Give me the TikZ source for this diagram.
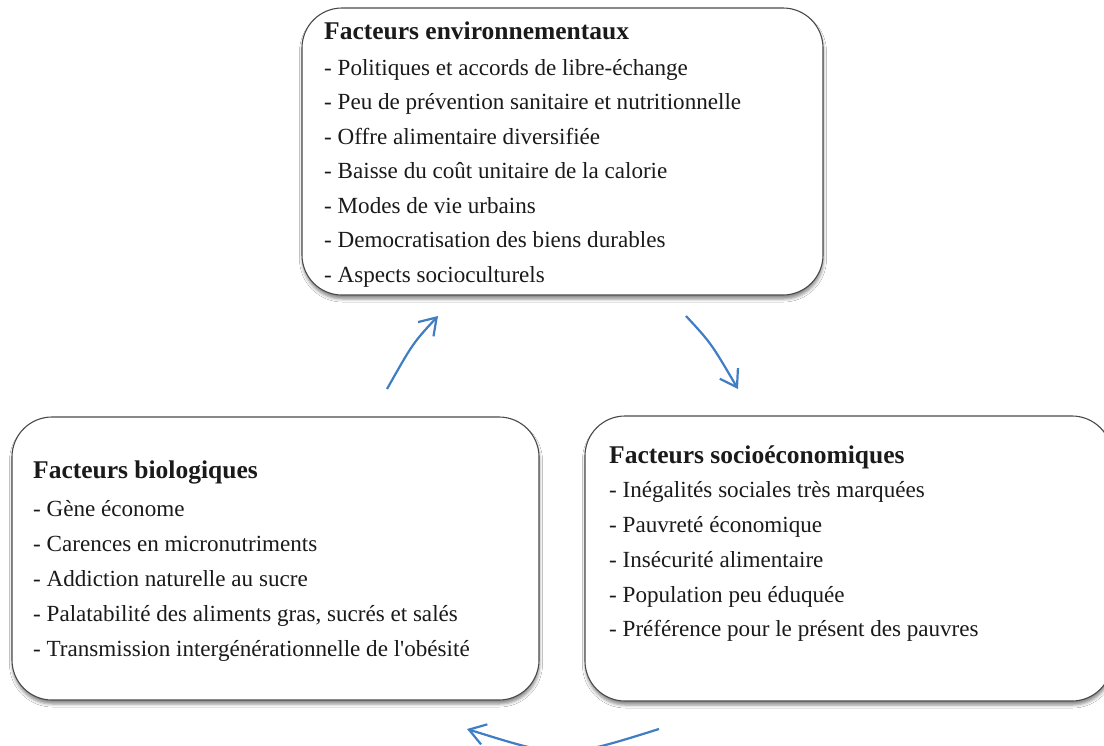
\documentclass[tikz,border=0pt]{standalone}
\usepackage{fontspec}
\setmainfont{Liberation Serif}[Ligatures=TeXOff]
\usetikzlibrary{arrows.meta,shadows.blur}
\definecolor{boxline}{HTML}{4A4A4A}
\definecolor{arrowblue}{HTML}{3F7DC4}
\definecolor{txt}{HTML}{1A1A1A}
\begin{document}
\begin{tikzpicture}[x=1pt,y=-1pt,
  box/.style={draw=boxline, line width=1.1pt, rounded corners=40pt, fill=white,
    blur shadow={shadow xshift=0.5pt, shadow yshift=-4pt, shadow blur radius=3pt, shadow opacity=45},
    inner sep=0pt},
  ttl/.style={anchor=base west, font=\fontsize{25.5}{30}\selectfont\bfseries, text=txt, inner sep=0pt},
  itm/.style={anchor=base west, font=\fontsize{23.1}{28}\selectfont, text=txt, inner sep=0pt},
  cyc/.style={draw=arrowblue, line width=2.2pt, -{Straight Barb[length=16pt,width=21pt]}}]
\clip (0,0) rectangle (1104,745);
\fill[white] (0,0) rectangle (1104,745);
% boxes
\node[box, minimum width=521pt, minimum height=287pt] (env) at (562.5,151.5) {};
\node[box, minimum width=527pt, minimum height=283pt] (bio) at (275.5,558.5) {};
\node[box, minimum width=527pt, minimum height=285pt] (soc) at (848.5,558.5) {};
% environment
\node[ttl] (envT) at (324,39) {Facteurs environnementaux};
\foreach \t [count=\i] in {{Politiques et accords de libre-échange},
  {Peu de prévention sanitaire et nutritionnelle},
  {Offre alimentaire diversifiée},
  {Baisse du coût unitaire de la calorie},
  {Modes de vie urbains},
  {Democratisation des biens durables},
  {Aspects socioculturels}}
  \node[itm] (env\i) at (324,{40.5+34.5*\i}) {- \t};
% biological
\node[ttl] (bioT) at (33,478) {Facteurs biologiques};
\foreach \t [count=\i] in {{Gène économe},
  {Carences en micronutriments},
  {Addiction naturelle au sucre},
  {Palatabilité des aliments gras, sucrés et salés},
  {Transmission intergénérationnelle de l'obésité}}
  \node[itm] (bio\i) at (33,{481+35*\i}) {- \t};
% socio-economic
\node[ttl] (socT) at (609,463) {Facteurs socioéconomiques};
\foreach \t [count=\i] in {{Inégalités sociales très marquées},
  {Pauvreté économique},
  {Insécurité alimentaire},
  {Population peu éduquée},
  {Préférence pour le présent des pauvres}}
  \node[itm] (soc\i) at (609,{463+34.75*\i}) {- \t};
% cycle arrows
\coordinate (a1s) at (387,389); \coordinate (a1e) at (438,316);
\coordinate (a2s) at (686,316); \coordinate (a2e) at (738,389);
\coordinate (a3s) at (659,729); \coordinate (a3e) at (467,729);
\draw[cyc] (a1s) .. controls (413,343) .. (a1e);
\draw[cyc] (a2s) .. controls (711,343) .. (a2e);
\draw[cyc] (a3s) .. controls (563,759) .. (a3e);
\end{tikzpicture}
\end{document}
